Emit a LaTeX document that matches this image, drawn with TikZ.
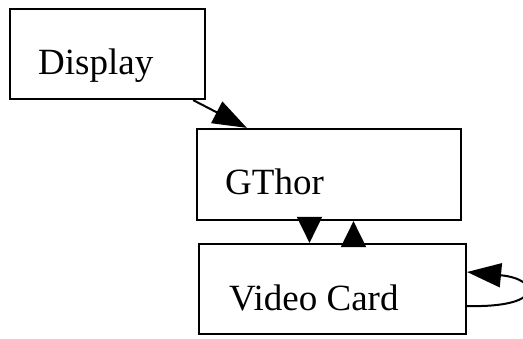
\documentclass[tikz,border=0pt]{standalone}
\usepackage{fontspec}
\setmainfont{Liberation Serif}
\usetikzlibrary{arrows.meta}
\begin{document}
\begin{tikzpicture}[x=1pt,y=-1pt,
  box/.style={draw=black,line width=2.2pt,rectangle,inner sep=0pt},
  lbl/.style={inner sep=0pt,anchor=base west,font=\fontsize{37}{44}\selectfont},
  edge/.style={draw=black,line width=2pt,-{Triangle[length=34pt,width=24pt]}},
  short/.style={draw=black,line width=2pt,-{Triangle[length=26pt,width=25pt]}}]
\useasboundingbox (0,0) rectangle (523,338);
% boxes
\node[box,minimum width=195pt,minimum height=90pt] (disp) at (107.5,54) {};
\node[box,minimum width=264pt,minimum height=91pt] (gthor) at (329,174.5) {};
\node[box,minimum width=267pt,minimum height=90pt] (vc) at (332.5,289) {};
% labels
\node[lbl] (displbl) at (38,74) {Display};
\node[lbl] (gthorlbl) at (225,194) {GThor};
\node[lbl] (vclbl) at (229,310) {Video Card};
% edges
\draw[edge] ([xshift=-13pt]disp.south east) -- ([xshift=51pt]gthor.north west);
\draw[short] ([xshift=-19.5pt]gthor.south) -- ([xshift=-19.5pt]gthor.south |- vc.north);
\draw[short] ([xshift=24.5pt]gthor.south |- vc.north) -- ([xshift=24.5pt]gthor.south);
\draw[edge] ([yshift=-17pt]vc.east) .. controls (545,308) and (540,279) .. ([yshift=17pt]vc.east);
\end{tikzpicture}
\end{document}
